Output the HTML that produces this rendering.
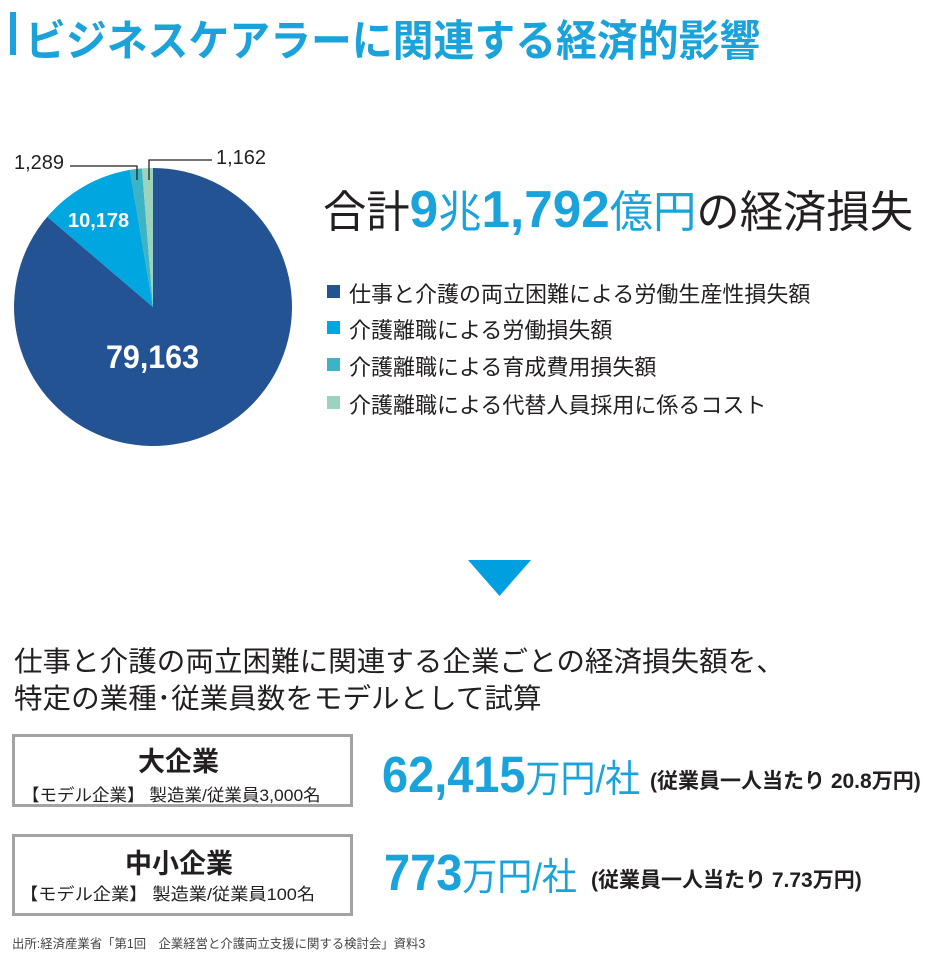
<!DOCTYPE html>
<html><head><meta charset="utf-8">
<style>
body{margin:0;width:941px;height:957px;background:#fff;position:relative;overflow:hidden;font-family:"Liberation Sans","Noto Sans CJK JP",sans-serif;color:#231f20}
.a{position:absolute;white-space:nowrap;transform-origin:left top}
.box{position:absolute;border:3px solid #a3a3a3;box-sizing:border-box;background:#fff}
.sq{position:absolute;width:13px;height:13px}
</style></head><body>
<div style="position:absolute;left:10px;top:12px;width:6px;height:43px;background:#1aa3db"></div>
<div class="a" style="left:25px;top:7px;font-size:43px;font-weight:bold;color:#1aa3db;transform:scaleX(0.95)">ビジネスケアラーに関連する経済的影響</div>

<svg style="position:absolute;left:0;top:0" width="941" height="600">
<path d="M153,307 L153,168 A139,139 0 1,1 47.25,216.8 Z" fill="#245394"/>
<path d="M153,307 L47.25,216.8 A139,139 0 0,1 129.8,169.9 Z" fill="#00a6df"/>
<path d="M153,307 L129.8,169.9 A139,139 0 0,1 141.95,168.4 Z" fill="#3cb4c6"/>
<path d="M153,307 L141.95,168.4 A139,139 0 0,1 153,168 Z" fill="#9bd3bf"/>
<polyline points="70,166 137,166 137,180" fill="none" stroke="#222" stroke-width="1.3"/>
<polyline points="212,160 149,160 149,180" fill="none" stroke="#222" stroke-width="1.3"/>
<polygon points="468,560 531,560 499.5,596" fill="#00a0e0"/>
</svg>
<div class="a" style="left:14px;top:152px;font-size:20px;transform:scaleX(1.0)">1,289</div>
<div class="a" style="left:216px;top:147px;font-size:20px;transform:scaleX(1.0)">1,162</div>
<div class="a" style="left:68px;top:210px;font-size:20px;font-weight:bold;color:#fff">10,178</div>
<div class="a" style="left:106px;top:339px;font-size:32px;font-weight:bold;color:#fff;transform:scaleX(0.95)">79,163</div>

<div class="a" style="left:323px;top:176px;font-size:44px;transform:scaleX(0.985)">合計<span style="color:#1aa3db;font-weight:bold;font-size:52px">9</span><span style="color:#1aa3db">兆</span><span style="color:#1aa3db;font-weight:bold;font-size:52px">1,792</span><span style="color:#1aa3db">億円</span>の経済損失</div>

<div class="sq" style="left:327px;top:285px;background:#245394"></div>
<div class="a" style="left:349px;top:277px;font-size:22px">仕事と介護の両立困難による労働生産性損失額</div>
<div class="sq" style="left:327px;top:321px;background:#00a6df"></div>
<div class="a" style="left:349px;top:313px;font-size:22px">介護離職による労働損失額</div>
<div class="sq" style="left:327px;top:358px;background:#3cb4c6"></div>
<div class="a" style="left:349px;top:350px;font-size:22px">介護離職による育成費用損失額</div>
<div class="sq" style="left:327px;top:396px;background:#9bd3bf"></div>
<div class="a" style="left:349px;top:388px;font-size:22px">介護離職による代替人員採用に係るコスト</div>

<div class="a" style="left:14px;top:640px;font-size:28px;transform:scaleX(1.02)">仕事と介護の両立困難に関連する企業ごとの経済損失額を、</div>
<div class="a" style="left:14px;top:677px;font-size:28px;transform:scaleX(1.02)">特定の業種･従業員数をモデルとして試算</div>

<div class="box" style="left:12px;top:734px;width:341px;height:73px"></div>
<div class="a" style="left:138px;top:740px;font-size:27px;font-weight:bold">大企業</div>
<div class="a" style="left:22px;top:781px;font-size:17px;transform:scaleX(1.03)">【モデル企業】 製造業/従業員3,000名</div>
<div class="box" style="left:12px;top:834px;width:341px;height:82px"></div>
<div class="a" style="left:125px;top:842px;font-size:27px;font-weight:bold">中小企業</div>
<div class="a" style="left:20px;top:880px;font-size:17px;transform:scaleX(1.07)">【モデル企業】 製造業/従業員100名</div>

<div class="a" style="left:382px;top:745px;color:#1aa3db;transform:scaleX(0.92)"><span style="font-size:51px;font-weight:bold">62,415</span><span style="font-size:38px">万円/社</span></div>
<div class="a" style="left:650px;top:765px;font-size:21px;font-weight:bold">(従業員一人当たり 20.8万円)</div>
<div class="a" style="left:384px;top:843px;color:#1aa3db;transform:scaleX(0.92)"><span style="font-size:51px;font-weight:bold">773</span><span style="font-size:38px">万円/社</span></div>
<div class="a" style="left:591px;top:864px;font-size:21px;font-weight:bold">(従業員一人当たり 7.73万円)</div>

<div class="a" style="left:12px;top:933px;font-size:12.5px;color:#444;transform:scaleX(0.99)">出所:経済産業省「第1回　企業経営と介護両立支援に関する検討会」資料3</div>
</body></html>
